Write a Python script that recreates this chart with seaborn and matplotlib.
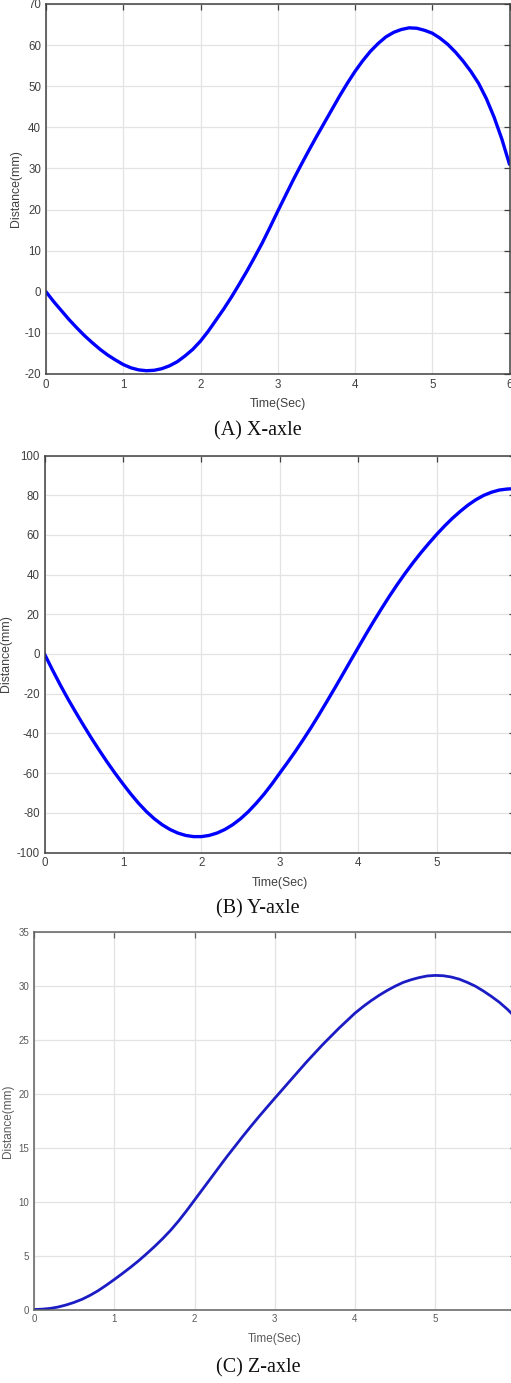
import numpy as np
import pandas as pd
import matplotlib
matplotlib.use("Agg")
import matplotlib.pyplot as plt
import seaborn as sns

# ---------------- data ----------------
time_s = [round(0.1 * i, 1) for i in range(61)]

x_axle = [0.0, -2.4, -4.6, -6.8, -8.8, -10.7, -12.4, -14.0, -15.4, -16.6,
          -17.7, -18.5, -19.0, -19.2, -19.1, -18.7, -18.0, -17.0, -15.6, -14.0,
          -12.0, -9.6, -6.9, -4.2, -1.3, 1.8, 5.0, 8.4, 11.9, 15.7,
          19.6, 23.4, 27.2, 30.8, 34.3, 37.7, 41.0, 44.3, 47.6, 50.7,
          53.6, 56.2, 58.5, 60.4, 62.0, 63.1, 63.8, 64.2, 64.1, 63.6,
          62.9, 61.7, 60.2, 58.3, 56.1, 53.6, 50.7, 47.0, 42.5, 37.2, 31.0]

y_axle = [0.0, -7.9, -15.5, -22.7, -29.5, -36.1, -42.5, -48.6, -54.5, -60.1,
          -65.4, -70.5, -75.2, -79.4, -83.0, -86.0, -88.4, -90.2, -91.4, -92.0,
          -92.0, -91.4, -90.2, -88.4, -86.0, -83.0, -79.4, -75.2, -70.6, -65.5,
          -60.0, -54.6, -49.0, -43.1, -37.0, -30.6, -24.0, -17.3, -10.5, -3.6,
          3.2, 10.0, 16.6, 23.0, 29.2, 35.1, 40.7, 46.0, 51.0, 55.7,
          60.2, 64.4, 68.3, 71.8, 75.0, 77.7, 79.9, 81.5, 82.6, 83.1, 83.3]

z_axle = [0.0, 0.03, 0.1, 0.23, 0.42, 0.66, 0.95, 1.32, 1.75, 2.25,
          2.78, 3.33, 3.9, 4.5, 5.15, 5.83, 6.55, 7.33, 8.2, 9.15,
          10.15, 11.15, 12.15, 13.15, 14.15, 15.1, 16.05, 16.97, 17.87, 18.74,
          19.6, 20.45, 21.3, 22.15, 23.0, 23.8, 24.6, 25.35, 26.1, 26.8,
          27.5, 28.1, 28.65, 29.15, 29.6, 30.0, 30.35, 30.6, 30.8, 30.95,
          31.0, 30.97, 30.85, 30.65, 30.35, 30.0, 29.55, 29.05, 28.5, 27.85, 27.1]

x_ticks_a = [0, 1, 2, 3, 4, 5, 6]
x_ticks_bc = [0, 1, 2, 3, 4, 5]
y_ticks_a = [-20, -10, 0, 10, 20, 30, 40, 50, 60, 70]
y_ticks_b = [-100, -80, -60, -40, -20, 0, 20, 40, 60, 80, 100]
y_ticks_c = [0, 5, 10, 15, 20, 25, 30, 35]

captions = ["(A) X-axle", "(B) Y-axle", "(C) Z-axle"]
x_label = "Time(Sec)"
y_label = "Distance(mm)"

# ---------------- figure ----------------
sns.set_theme(style="white")
plt.rcParams["font.family"] = ["Liberation Sans", "DejaVu Sans"]
plt.rcParams["axes.unicode_minus"] = False

W, H = 511, 1383
fig = plt.figure(figsize=(W / 100, H / 100), dpi=100)


def frac_axes(left, right, top, bottom):
    return fig.add_axes([left / W, 1 - bottom / H, (right - left) / W, (bottom - top) / H])


panels = [
    dict(box=(46, 509.5, 4, 374), y=x_axle, xt=x_ticks_a, yt=y_ticks_a, ylim=(-20, 70),
         color="#0000ff", lw=2.4, ylab_x=16, xlab_y=404, cap_y=431, fs=8.3, lfs=8.8,
         tcol="#404040", scol="#404040"),
    dict(box=(44.5, 515, 455.5, 852.5), y=y_axle, xt=x_ticks_bc, yt=y_ticks_b, ylim=(-100, 100),
         color="#0000ff", lw=2.4, ylab_x=6, xlab_y=883, cap_y=909, fs=8.3, lfs=8.8,
         tcol="#404040", scol="#404040"),
    dict(box=(34, 515.5, 932.3, 1309.5), y=z_axle, xt=x_ticks_bc, yt=y_ticks_c, ylim=(0, 35),
         color="#1c1cc4", lw=2.0, ylab_x=8, xlab_y=1339, cap_y=1368, fs=7.0, lfs=8.5,
         tcol="#5a5a5a", scol="#606060"),
]

for p, cap in zip(panels, captions):
    l, r, t, b = p["box"]
    ax = frac_axes(l, r, t, b)
    df = pd.DataFrame({"t": time_s, "v": p["y"]})
    sns.lineplot(data=df, x="t", y="v", ax=ax, color=p["color"], linewidth=p["lw"])
    ax.set_xlim(0, 6)
    ax.set_ylim(*p["ylim"])
    ax.set_xticks(p["xt"])
    ax.set_yticks(p["yt"])
    ax.grid(True, color="#e3e3e3", linewidth=0.9)
    ax.set_axisbelow(True)
    for s in ax.spines.values():
        s.set_visible(True)
        s.set_color(p["scol"])
        s.set_linewidth(1.1)
    ax.tick_params(direction="in", top=True, right=True, length=4, width=0.9,
                   colors=p["scol"], labelcolor=p["tcol"], labelsize=p["fs"], pad=3.5)
    ax.set_xlabel(x_label, fontsize=p["lfs"], color=p["tcol"])
    ax.set_ylabel(y_label, fontsize=p["lfs"], color=p["tcol"])
    ax_w = r - l
    ax_h = b - t
    ax.yaxis.set_label_coords((p["ylab_x"] - l) / ax_w, 0.5)
    ax.yaxis.label.set_ha("center")
    ax.yaxis.label.set_va("center")
    ax.xaxis.set_label_coords(0.5, (b - p["xlab_y"]) / ax_h)
    ax.xaxis.label.set_va("center")
    fig.text(258 / W, 1 - p["cap_y"] / H, cap, ha="center", va="center",
             family=["Liberation Serif", "DejaVu Serif"], fontsize=14.5, color="#111111")

fig.savefig("out.png", dpi=100)
